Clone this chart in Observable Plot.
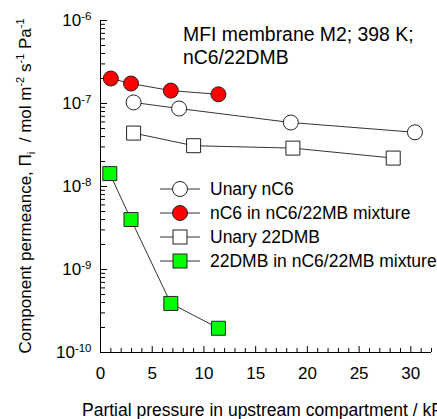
<!DOCTYPE html>
<html><head><meta charset="utf-8">
<script src="https://cdn.jsdelivr.net/npm/d3@7"></script>
<script src="https://cdn.jsdelivr.net/npm/@observablehq/plot@0.6"></script>
<style>body{margin:0;background:#fff} svg{display:block}</style>
</head><body><div id="chart"></div>
<script>
// Data
const seriesNames = ["Unary nC6", "nC6 in nC6/22MB mixture", "Unary 22DMB", "22DMB in nC6/22MB mixture"];
const unaryNC6X = [3.2, 7.6, 18.4, 30.4];
const unaryNC6Y = [1.03e-7, 8.7e-8, 5.9e-8, 4.5e-8];
const mixNC6X = [1.0, 2.95, 6.8, 11.4];
const mixNC6Y = [2.0e-7, 1.74e-7, 1.43e-7, 1.29e-7];
const unaryDMBX = [3.2, 9.0, 18.6, 28.3];
const unaryDMBY = [4.4e-8, 3.1e-8, 2.9e-8, 2.2e-8];
const mixDMBX = [0.9, 2.95, 6.8, 11.4];
const mixDMBY = [1.43e-8, 4.0e-9, 3.9e-10, 1.96e-10];
const xTickValues = [0, 5, 10, 15, 20, 25, 30];
const yTickExponents = [-10, -9, -8, -7, -6];
const titleLines = ["MFI membrane M2; 398 K;", "nC6/22DMB"];
const xLabel = "Partial pressure in upstream compartment / kPa";

const rows = (xs, ys) => xs.map((x, i) => ({x, y: ys[i]}));
const sUnaryNC6 = rows(unaryNC6X, unaryNC6Y);
const sMixNC6 = rows(mixNC6X, mixNC6Y);
const sUnaryDMB = rows(unaryDMBX, unaryDMBY);
const sMixDMB = rows(mixDMBX, mixDMBY);

const xMinor = d3.range(0, 33, 1).filter(v => v % 5 !== 0);
const yMajor = yTickExponents.map(e => Math.pow(10, e));
const yMinor = [];
for (const e of yTickExponents.slice(0, -1)) for (let k = 2; k <= 9; k++) yMinor.push(k * Math.pow(10, e));

const FONT = "'Liberation Sans', Arial, Helvetica, sans-serif";
const lineColor = "#333";
const dotStroke = "#222";

const series = [
  {data: sUnaryNC6, symbol: "circle", fill: "white", r: 7.5},
  {data: sMixNC6, symbol: "circle", fill: "#ff0000", r: 7.5},
  {data: sUnaryDMB, symbol: "square", fill: "white", r: 7.9},
  {data: sMixDMB, symbol: "square", fill: "#00ff00", r: 7.9}
];

const marks = [
  Plot.ruleX([0], {stroke: "black"}),
  Plot.ruleY([1e-10], {stroke: "black"}),
  Plot.axisX({ticks: xMinor, tickSize: 4, dy: -4, tickFormat: () => "", label: null, stroke: "black"}),
  Plot.axisX({ticks: xTickValues, tickSize: 6, dy: -6, tickFormat: () => "", label: null, stroke: "black"}),
  Plot.axisX({ticks: xTickValues, tickSize: 0, tickPadding: 14, label: null, fontSize: 17, fill: "black"}),
  Plot.axisY({ticks: yMinor, tickSize: 5, dx: 5, tickFormat: () => "", label: null, stroke: "black"}),
  Plot.axisY({ticks: yMajor, tickSize: 7, dx: 7, tickFormat: () => "", label: null, stroke: "black"}),
  Plot.axisY({ticks: yMajor, tickSize: 0, tickPadding: 9, label: null, fontSize: 17, fill: "black",
    tickFormat: d => "10^" + Math.round(Math.log10(d))})
];
for (const s of series) {
  marks.push(Plot.line(s.data, {x: "x", y: "y", stroke: lineColor, strokeWidth: 1}));
}
for (const s of series) {
  marks.push(Plot.dot(s.data, {x: "x", y: "y", r: s.r, symbol: s.symbol, fill: s.fill, stroke: dotStroke, strokeWidth: 1}));
}

const svgEl = Plot.plot({
  width: 437, height: 419,
  marginLeft: 100, marginRight: 6, marginTop: 20, marginBottom: 67,
  x: {domain: [0, 32]},
  y: {type: "log", domain: [1e-10, 1e-6]},
  style: {fontFamily: FONT, fontSize: "16px", color: "black", background: "white", overflow: "hidden"},
  marks
});
document.getElementById("chart").appendChild(svgEl);

const svg = d3.select(svgEl);
// superscripts on y tick labels
svg.selectAll('g[aria-label="y-axis tick label"] text').each(function() {
  const t = d3.select(this);
  const [b, e] = t.text().split("^");
  t.text(b);
  t.append("tspan").attr("dy", "-0.5em").attr("font-size", 11.5).text(e);
});

const g = svg.append("g").attr("font-family", FONT).attr("fill", "black").attr("text-anchor", "start");
// title
g.append("text").attr("x", 183).attr("y", 41).attr("font-size", 19.4).text(titleLines[0]);
g.append("text").attr("x", 183).attr("y", 64).attr("font-size", 19.4).text(titleLines[1]);
// x label
g.append("text").attr("x", 82).attr("y", 416).attr("font-size", 17.5).text(xLabel);
// y label
const yl = g.append("text").attr("transform", "translate(31,186) rotate(-90)").attr("text-anchor", "middle").attr("font-size", 17);
yl.append("tspan").text("Component permeance, Π");
yl.append("tspan").attr("font-size", 11).attr("dy", 4).text("i");
yl.append("tspan").attr("dy", -4).text("  / mol m");
yl.append("tspan").attr("font-size", 11).attr("dy", -7).text("-2");
yl.append("tspan").attr("dy", 7).text(" s");
yl.append("tspan").attr("font-size", 11).attr("dy", -7).text("-1");
yl.append("tspan").attr("dy", 7).text(" Pa");
yl.append("tspan").attr("font-size", 11).attr("dy", -7).text("-1");

// legend
const legY = [189, 213, 237, 261];
series.forEach((s, i) => {
  const cy = legY[i];
  g.append("line").attr("x1", 160).attr("x2", 200).attr("y1", cy).attr("y2", cy).attr("stroke", lineColor);
  if (s.symbol === "circle") {
    g.append("circle").attr("cx", 180).attr("cy", cy).attr("r", 7.5).attr("fill", s.fill).attr("stroke", dotStroke);
  } else {
    g.append("rect").attr("x", 173).attr("y", cy - 7).attr("width", 14).attr("height", 14).attr("fill", s.fill).attr("stroke", dotStroke);
  }
  g.append("text").attr("x", 210).attr("y", cy).attr("dy", "0.35em").attr("font-size", 17.5).text(seriesNames[i]);
});
</script>
</body></html>
